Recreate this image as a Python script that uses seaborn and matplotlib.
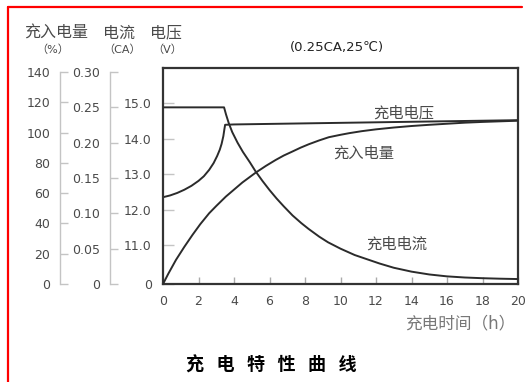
import matplotlib
matplotlib.use('Agg')
import matplotlib.pyplot as plt
import seaborn as sns
from matplotlib.lines import Line2D

sns.set_theme(style='white')
plt.rcParams['font.family'] = ['DejaVu Sans', 'Noto Sans CJK SC']

# charge voltage (V)
hours_v = [0, 0.4, 0.8, 1.2, 1.6, 2.0, 2.3, 2.6, 2.85, 3.05, 3.2, 3.3, 3.4, 3.46, 3.5,
           4.0, 8.0, 12.0, 16.0, 20.0]
volts = [12.36, 12.41, 12.48, 12.57, 12.68, 12.82, 12.95, 13.13, 13.32, 13.52, 13.70, 13.86, 14.08, 14.28, 14.40,
         14.41, 14.44, 14.47, 14.50, 14.53]

# charge current (CA)
hours_i = [0, 3.44, 3.55, 3.7, 3.9, 4.2, 4.5, 4.9, 5.2, 5.6, 6.0, 6.4, 6.8, 7.3, 7.8, 8.2, 8.8, 9.3,
           10.0, 10.8, 11.5, 12.2, 13.0, 14.0, 15.0, 16.0, 17.0, 18.0, 19.0, 20.0]
current = [0.25, 0.25, 0.240, 0.228, 0.215, 0.200, 0.187, 0.172, 0.160, 0.146, 0.133, 0.121, 0.110, 0.097,
           0.086, 0.078, 0.067, 0.059, 0.050, 0.041, 0.035, 0.029, 0.023, 0.0175, 0.0135, 0.0108, 0.0092,
           0.0082, 0.0075, 0.007]

# charged capacity (%)
hours_q = [0, 0.3, 0.73, 1.2, 1.66, 2.1, 2.6, 3.0, 3.54, 4.0, 4.47, 5.22, 5.8, 6.35, 6.8, 7.28, 7.75,
           8.22, 8.8, 9.34, 10.0, 10.5, 11.2, 12.0, 13.0, 14.0, 15.0, 16.0, 17.0, 18.0, 19.0, 20.0]
charge = [0, 6.8, 15.9, 24.5, 32.4, 39.5, 46.7, 51.5, 57.7, 62.3, 67.0, 73.5, 78.0, 81.9, 84.8, 87.4, 90.0,
          92.3, 94.8, 96.9, 98.5, 99.6, 100.9, 102.1, 103.3, 104.3, 105.1, 105.8, 106.5, 107.0, 107.4, 107.8]

x_ticks = [0, 2, 4, 6, 8, 10, 12, 14, 16, 18, 20]
pct_ticks = [0, 20, 40, 60, 80, 100, 120, 140]
ca_ticks = [0, 0.05, 0.10, 0.15, 0.20, 0.25, 0.30]
ca_labels = ['0', '0.05', '0.10', '0.15', '0.20', '0.25', '0.30']
v_ticks = [9.915, 11, 12, 13, 14, 15]
v_labels = ['0', '11.0', '12.0', '13.0', '14.0', '15.0']

line_col = '#2b2b2b'
text_col = '#4a4a4a'
grey = '#c4c4c4'

fig = plt.figure(figsize=(5.31, 3.82), dpi=100)
rect = [163 / 531, 1 - 284 / 382, 355 / 531, 216 / 382]
ax = fig.add_axes(rect, label='volt')
ax_ca = fig.add_axes(rect, label='ca', sharex=ax)
ax_pct = fig.add_axes(rect, label='pct', sharex=ax)

sns.lineplot(x=hours_v, y=volts, ax=ax, color=line_col, linewidth=1.4, sort=False)
sns.lineplot(x=hours_i, y=current, ax=ax_ca, color=line_col, linewidth=1.4, sort=False)
sns.lineplot(x=hours_q, y=charge, ax=ax_pct, color=line_col, linewidth=1.4, sort=False)

ax.set_xlim(0, 20)
ax.set_ylim(9.915, 16.0)
ax_ca.set_ylim(0, 0.3057)
ax_pct.set_ylim(0, 142.6)

for s in ax.spines.values():
    s.set_color('#333333')
    s.set_linewidth(1.6)
ax.set_xticks(x_ticks)
ax.set_yticks(v_ticks)
ax.set_yticklabels(v_labels)
ax.tick_params(axis='x', bottom=True, direction='in', length=5, width=1, color='#aaaaaa',
               pad=8, labelsize=9, labelcolor=text_col)
ax.tick_params(axis='y', left=True, direction='in', length=8, width=1, color=grey,
               pad=8, labelsize=9, labelcolor=text_col)
ax.set_xlabel('')
ax.set_ylabel('')

for a, pos, top, ticks in [(ax_ca, -0.149, 0.30, ca_ticks), (ax_pct, -0.290, 140, pct_ticks)]:
    a.patch.set_visible(False)
    a.xaxis.set_visible(False)
    for side in ['top', 'right', 'bottom']:
        a.spines[side].set_visible(False)
    a.spines['left'].set_position(('axes', pos))
    a.spines['left'].set_bounds(0, top)
    a.spines['left'].set_color(grey)
    a.spines['left'].set_linewidth(1)
    a.set_yticks(ticks)
    a.tick_params(axis='y', left=True, direction='in', length=6, width=1, color=grey,
                  pad=7, labelsize=9, labelcolor=text_col)
    a.set_ylabel('')
ax_ca.set_yticklabels(ca_labels)

# curve names
ax.text(13.57, 14.73, '充电电压', fontsize=11, color=text_col, ha='center', va='center')
ax.text(11.32, 13.61, '充入电量', fontsize=11, color=text_col, ha='center', va='center')
ax.text(13.17, 11.04, '充电电流', fontsize=11, color=text_col, ha='center', va='center')

# axis headers
fig.text(56 / 531, 1 - 33 / 382, '充入电量', fontsize=11.5, color=text_col, ha='center', va='center')
fig.text(53 / 531, 1 - 50 / 382, '（%）', fontsize=8, color=text_col, ha='center', va='center')
fig.text(119 / 531, 1 - 33 / 382, '电流', fontsize=11.5, color=text_col, ha='center', va='center')
fig.text(122 / 531, 1 - 50 / 382, '（CA）', fontsize=8, color=text_col, ha='center', va='center')
fig.text(166 / 531, 1 - 33 / 382, '电压', fontsize=11.5, color=text_col, ha='center', va='center')
fig.text(167 / 531, 1 - 50 / 382, '（V）', fontsize=8, color=text_col, ha='center', va='center')
fig.text(337 / 531, 1 - 48 / 382, '(0.25CA,25℃)', fontsize=9.5, color='#222222', ha='center', va='center')

fig.text(515 / 531, 1 - 323 / 382, '充电时间（h）', fontsize=12, color='#777777', ha='right', va='center')
fig.text(271 / 531, 1 - 365 / 382, '充  电  特  性  曲  线', fontsize=13, fontweight='bold',
         color='black', ha='center', va='center')

# red frame
fig.add_artist(Line2D([8 / 531, 522 / 531], [1 - 7 / 382, 1 - 7 / 382], transform=fig.transFigure,
                      color='red', linewidth=1.6))
fig.add_artist(Line2D([8 / 531, 8 / 531], [0, 1 - 7 / 382], transform=fig.transFigure,
                      color='red', linewidth=1.6))

fig.savefig('out.png', dpi=100)
